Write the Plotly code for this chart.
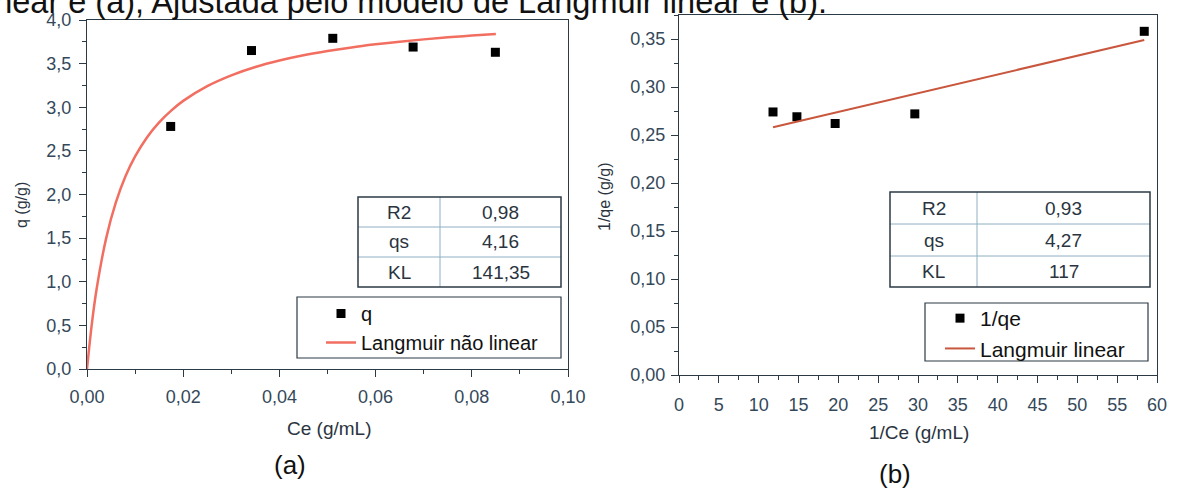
import plotly.graph_objects as go

W, H = 1177, 490

# ---------------- data: panel (a) ----------------
ce = [0.0174, 0.0342, 0.0511, 0.0678, 0.0849]
q = [2.78, 3.65, 3.79, 3.69, 3.63]
fit_ce = [0.0, 0.001, 0.002, 0.004, 0.006, 0.008, 0.010, 0.0125, 0.015, 0.0175,
          0.020, 0.025, 0.030, 0.035, 0.040, 0.045, 0.050, 0.055, 0.060, 0.065,
          0.070, 0.075, 0.080, 0.085]
fit_q = [0.0, 0.515, 0.917, 1.503, 1.909, 2.208, 2.436, 2.657, 2.827, 2.962,
         3.073, 3.242, 3.366, 3.461, 3.535, 3.595, 3.644, 3.686, 3.721, 3.752,
         3.778, 3.801, 3.822, 3.840]

# ---------------- data: panel (b) ----------------
inv_ce = [11.8, 14.8, 19.6, 29.6, 58.4]
inv_qe = [0.274, 0.269, 0.262, 0.272, 0.358]
lin_x = [11.8, 58.4]
lin_y = [0.258, 0.349]

# ---------------- tables ----------------
param_names = ["R2", "qs", "KL"]
params_a = ["0,98", "4,16", "141,35"]
params_b = ["0,93", "4,27", "117"]

caption = "Langmuir não linear e (a), Ajustada pelo modelo de Langmuir linear e (b)."

FONT = "Liberation Sans, Arial, sans-serif"
AXC = "#2c3a45"
TICKC = "#34485a"
TXT = "#2a3440"


def px(x):
    return x / W


def py(y):
    return 1 - y / H


fig = go.Figure()

fig.add_trace(go.Scatter(
    x=ce, y=q, mode="markers", name="q",
    marker=dict(symbol="square", size=9, color="black"),
    xaxis="x", yaxis="y", legend="legend"))
fig.add_trace(go.Scatter(
    x=fit_ce, y=fit_q, mode="lines", name="Langmuir não linear",
    line=dict(color="#f26e60", width=2.5, shape="spline"),
    xaxis="x", yaxis="y", legend="legend"))

fig.add_trace(go.Scatter(
    x=inv_ce, y=inv_qe, mode="markers", name="1/qe",
    marker=dict(symbol="square", size=9, color="black"),
    xaxis="x2", yaxis="y2", legend="legend2"))
fig.add_trace(go.Scatter(
    x=lin_x, y=lin_y, mode="lines", name="Langmuir linear",
    line=dict(color="#c8573e", width=2),
    xaxis="x2", yaxis="y2", legend="legend2"))

axis_common = dict(
    showline=True, linecolor=AXC, linewidth=1.2, mirror=True,
    ticks="outside", ticklen=7, tickcolor=AXC, tickwidth=1,
    showgrid=False, zeroline=False, automargin=False,
    tickfont=dict(family=FONT, size=18, color=TICKC),
)

fig.update_layout(
    template="none",
    width=W, height=H,
    margin=dict(l=0, r=0, t=0, b=0, pad=0),
    paper_bgcolor="white", plot_bgcolor="white",
    separators=",.",
    font=dict(family=FONT),
    title=dict(text=caption, x=px(827), xanchor="right", xref="paper",
               y=py(13), yanchor="bottom", yref="container", automargin=False,
               pad=dict(t=0, b=0, l=0, r=0),
               font=dict(family=FONT, size=32.5, color="#111")),
    xaxis=dict(domain=[px(87), px(568)], range=[0, 0.1], dtick=0.02, tickformat=".2f",
               anchor="y", ticklabelstandoff=4,
               minor=dict(dtick=0.01, ticklen=4, tickcolor=AXC, ticks="outside"),
               **axis_common),
    yaxis=dict(domain=[py(369), py(20)], range=[0, 4.0], dtick=0.5, tickformat=".1f",
               anchor="x", ticklabelstandoff=4,
               minor=dict(dtick=0.25, ticklen=4, tickcolor=AXC, ticks="outside"),
               **axis_common),
    xaxis2=dict(domain=[px(679), px(1157)], range=[0, 60], dtick=5, tickformat="d",
                anchor="y2", ticklabelstandoff=6,
                minor=dict(dtick=2.5, ticklen=4, tickcolor=AXC, ticks="outside"),
                **axis_common),
    yaxis2=dict(domain=[py(375), py(15)], range=[0, 0.375], dtick=0.05, tickformat=".2f",
                anchor="x2", ticklabelstandoff=2,
                minor=dict(dtick=0.025, ticklen=4, tickcolor=AXC, ticks="outside"),
                **axis_common),
    legend=dict(x=px(321), y=py(294), xanchor="left", yanchor="top",
                bgcolor="rgba(0,0,0,0)", borderwidth=0,
                font=dict(family=FONT, size=20, color="#111"), tracegroupgap=0),
    legend2=dict(x=px(940), y=py(298), xanchor="left", yanchor="top",
                 bgcolor="rgba(0,0,0,0)", borderwidth=0,
                 font=dict(family=FONT, size=21, color="#111"), tracegroupgap=0),
    showlegend=True,
)

shapes = []
annotations = []


def box(x0, y0, x1, y1, color=AXC, width=1.5):
    shapes.append(dict(type="rect", xref="paper", yref="paper",
                       x0=px(x0), x1=px(x1), y0=py(y1), y1=py(y0),
                       line=dict(color=color, width=width), layer="above"))


def seg(x0, y0, x1, y1, color="#8fb0c4", width=1):
    shapes.append(dict(type="line", xref="paper", yref="paper",
                       x0=px(x0), x1=px(x1), y0=py(y0), y1=py(y1),
                       line=dict(color=color, width=width), layer="above"))


def text(s, x, y, size, color=TXT, angle=0, xanchor="center", yanchor="middle"):
    annotations.append(dict(text=s, x=px(x), y=py(y), xref="paper", yref="paper",
                            showarrow=False, xanchor=xanchor, yanchor=yanchor,
                            textangle=angle,
                            font=dict(family=FONT, size=size, color=color)))


def table(x0, xm, x1, rows, names, vals):
    for r in range(len(names)):
        yc = (rows[r] + rows[r + 1]) / 2
        text(names[r], (x0 + xm) / 2, yc, 19)
        text(vals[r], (xm + x1) / 2, yc, 19)
    for r in range(1, len(rows) - 1):
        seg(x0, rows[r], x1, rows[r])
    seg(xm, rows[0], xm, rows[-1])
    box(x0, rows[0], x1, rows[-1])


table(358, 440, 561, [197, 227, 257, 287], param_names, params_a)
table(890, 977, 1150, [192, 224, 256, 287], param_names, params_b)

# legend frames
box(297, 297, 561, 358, width=1.2)
box(925, 303, 1148, 361, width=1.2)

# axis titles
text("Ce (g/mL)", 329, 428, 19)
text("1/Ce (g/mL)", 919, 432, 19)
text("q (g/g)", 21, 205, 16, angle=-90)
text("1/qe (g/g)", 605, 197, 16, angle=-90)

# panel labels
text("(a)", 290, 465, 26, color="#111")
text("(b)", 895, 474, 26, color="#111")

fig.update_layout(shapes=shapes, annotations=annotations)

fig.write_html("out.html", config={"displayModeBar": False},
               post_script="document.body.style.margin='0';")
